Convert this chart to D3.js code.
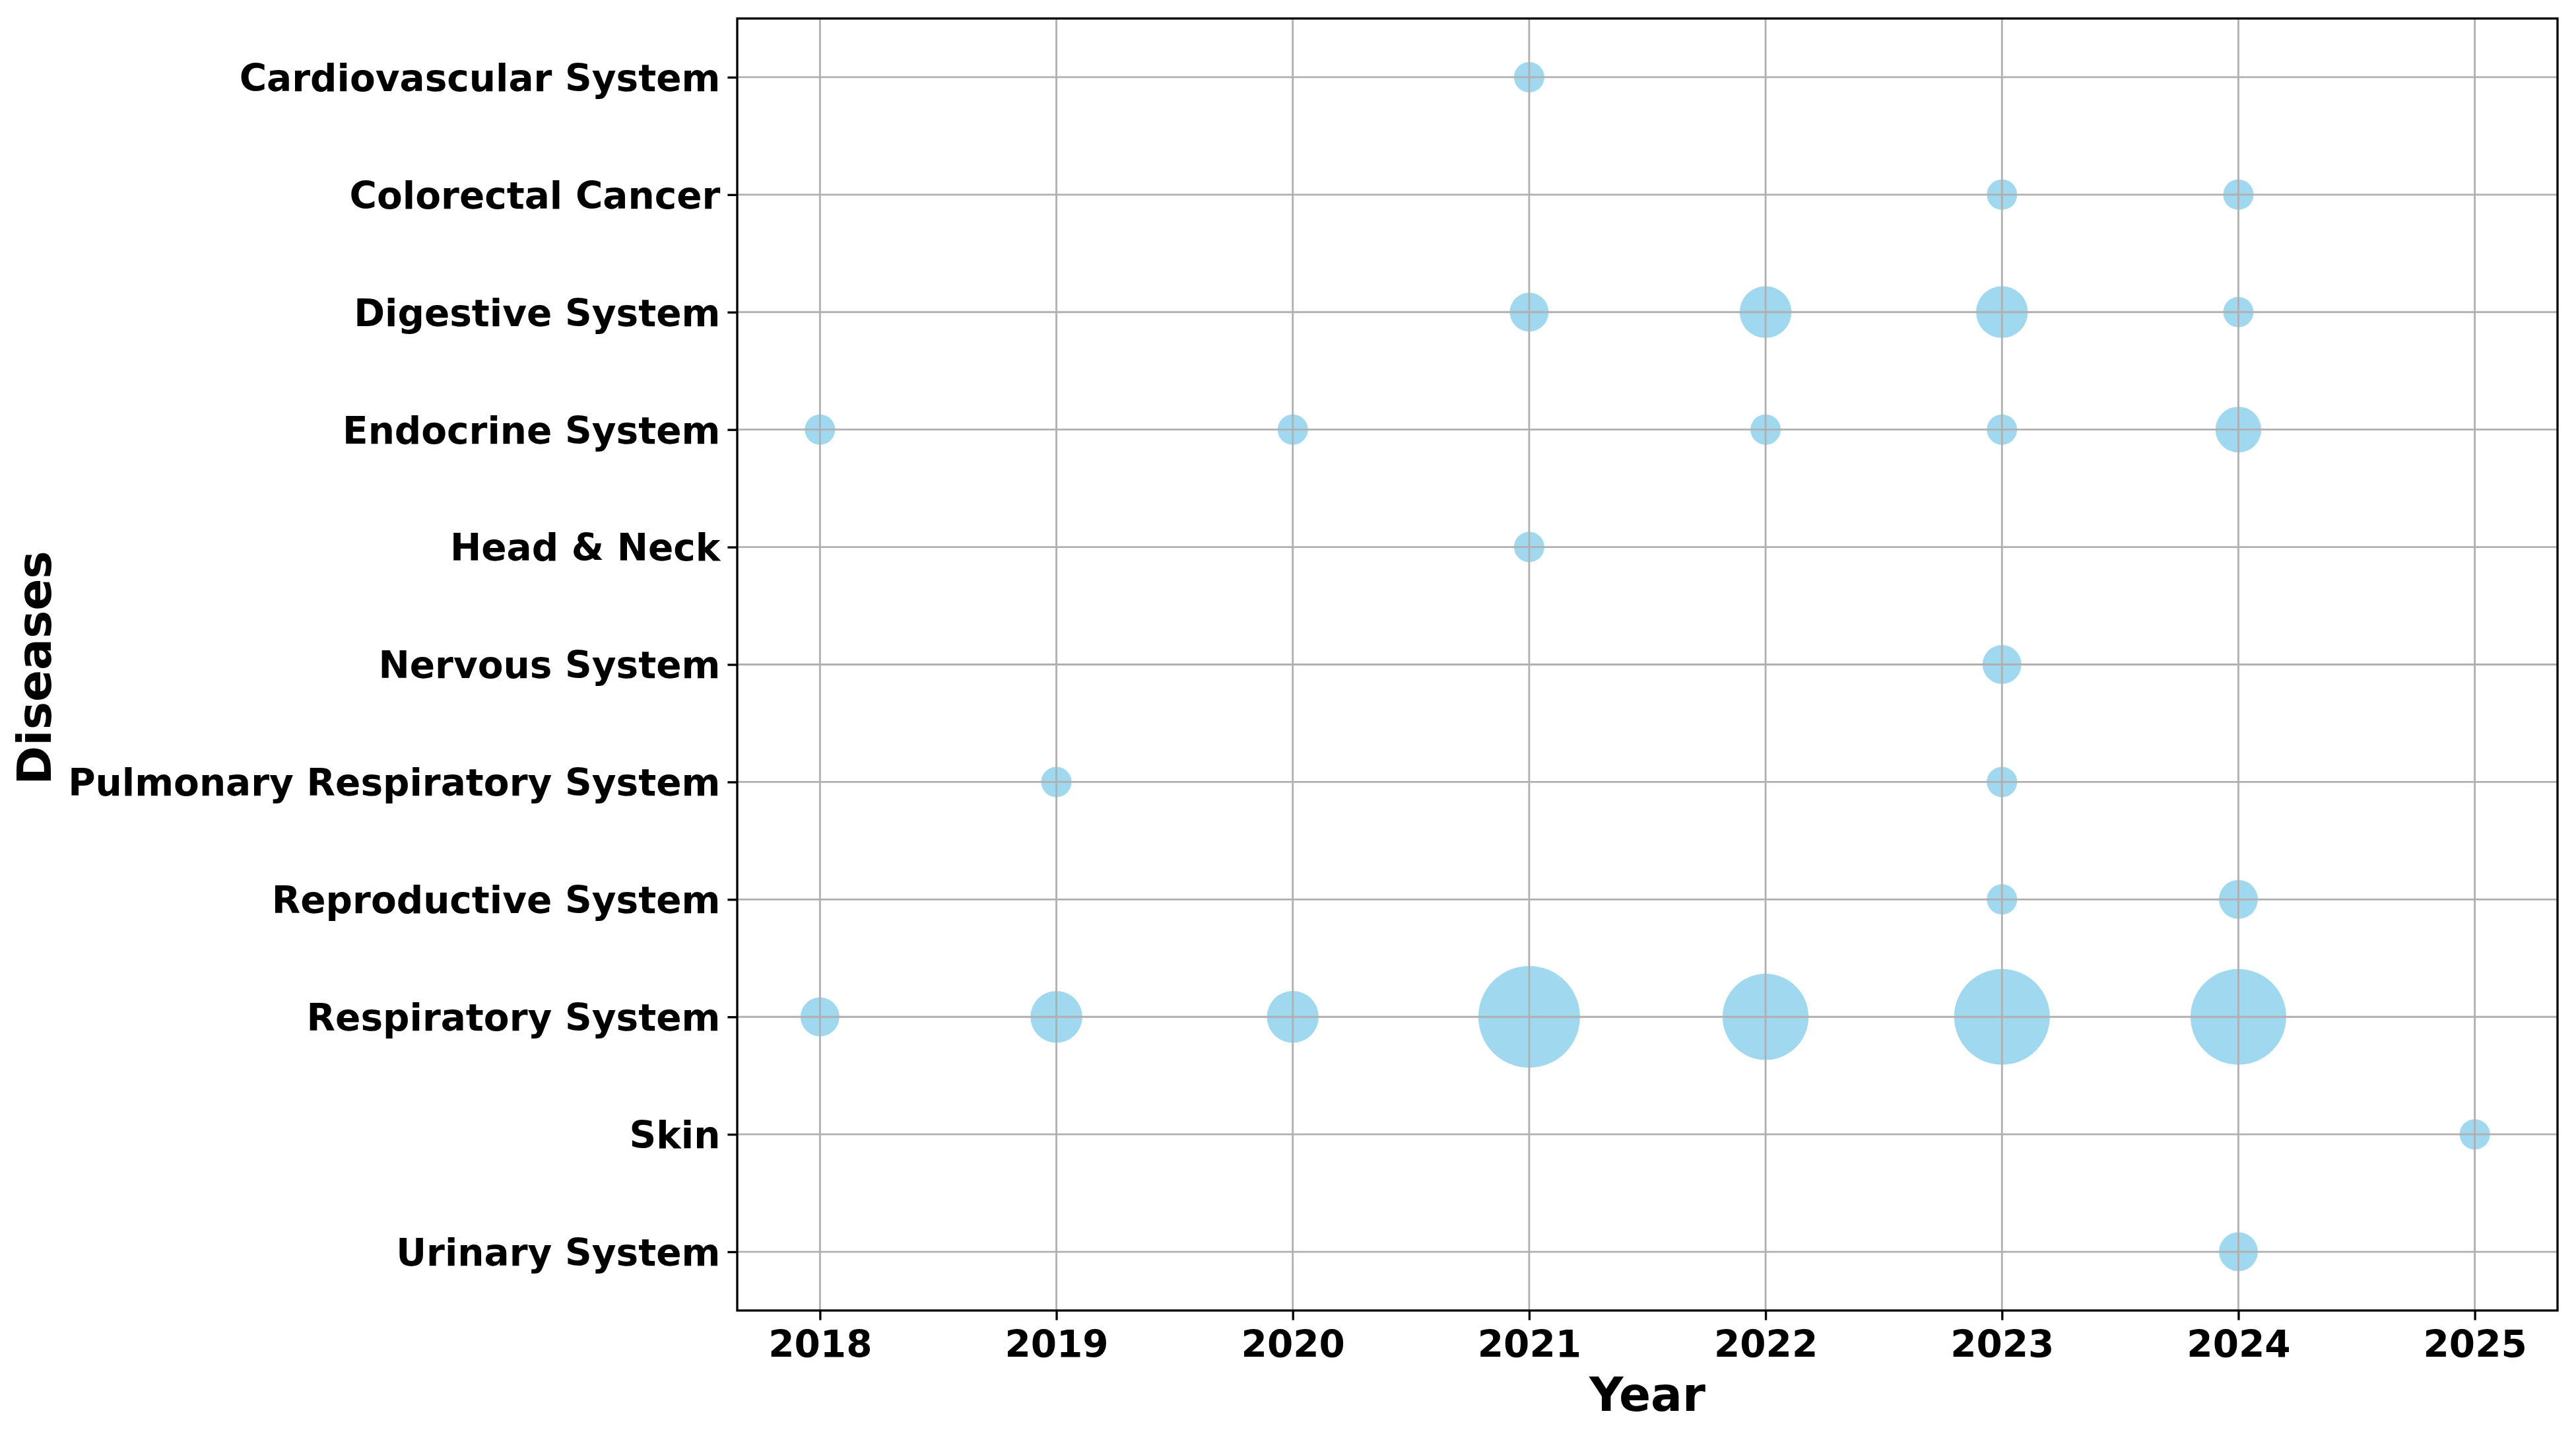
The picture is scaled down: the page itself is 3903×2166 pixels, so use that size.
<!DOCTYPE html>
<html>
<head>
<meta charset="utf-8">
<script src="https://cdn.jsdelivr.net/npm/d3@7"></script>
<style>
  html, body { margin: 0; padding: 0; background: #ffffff; }
  svg { display: block; }
  text { font-family: "DejaVu Sans", sans-serif; font-weight: bold; fill: #000; }
</style>
</head>
<body>
<svg id="chart" width="3903" height="2166"></svg>
<script>
// ---- data ----
const diseases = [
  "Cardiovascular System",
  "Colorectal Cancer",
  "Digestive System",
  "Endocrine System",
  "Head & Neck",
  "Nervous System",
  "Pulmonary Respiratory System",
  "Reproductive System",
  "Respiratory System",
  "Skin",
  "Urinary System"
];
const years = [2018, 2019, 2020, 2021, 2022, 2023, 2024, 2025];
const pointDisease = [
  "Cardiovascular System",
  "Colorectal Cancer", "Colorectal Cancer",
  "Digestive System", "Digestive System", "Digestive System", "Digestive System",
  "Endocrine System", "Endocrine System", "Endocrine System", "Endocrine System", "Endocrine System",
  "Head & Neck",
  "Nervous System",
  "Pulmonary Respiratory System", "Pulmonary Respiratory System",
  "Reproductive System", "Reproductive System",
  "Respiratory System", "Respiratory System", "Respiratory System", "Respiratory System",
  "Respiratory System", "Respiratory System", "Respiratory System",
  "Skin",
  "Urinary System"
];
const pointYear = [
  2021,
  2023, 2024,
  2021, 2022, 2023, 2024,
  2018, 2020, 2022, 2023, 2024,
  2021,
  2023,
  2019, 2023,
  2023, 2024,
  2018, 2019, 2020, 2021, 2022, 2023, 2024,
  2025,
  2024
];
const pointCount = [
  1,
  1, 1,
  2, 4, 4, 1,
  1, 1, 1, 1, 3,
  1,
  2,
  1, 1,
  1, 2,
  2, 4, 4, 17, 12, 15, 15,
  1,
  2
];
const xLabel = "Year";
const yLabel = "Diseases";

// ---- layout ----
const W = 3903, H = 2166;
const plot = { left: 1117, right: 3875, top: 28, bottom: 1985 };
const lw = 3.33;
const tickFont = 56.5;
const titleFont = 71;

const svg = d3.select("#chart");
svg.append("rect").attr("width", W).attr("height", H).attr("fill", "#ffffff");

const x = d3.scaleLinear()
  .domain([years[0] - 0.35, years[years.length - 1] + 0.35])
  .range([plot.left, plot.right]);
const yIndex = d3.scaleLinear()
  .domain([-0.5, diseases.length - 0.5])
  .range([plot.top, plot.bottom]);
const y = d => yIndex(diseases.indexOf(d));
// area (diameter^2) grows linearly with count
const area = d3.scaleLinear().domain([1, 17]).range([2116, 23716]);
const radius = n => Math.sqrt(area(n)) / 2;

const points = pointCount.map((c, i) => ({ d: pointDisease[i], yr: pointYear[i], c }));

// clip
svg.append("clipPath").attr("id", "clip")
  .append("rect")
  .attr("x", plot.left).attr("y", plot.top)
  .attr("width", plot.right - plot.left).attr("height", plot.bottom - plot.top);

// bubbles
svg.append("g").attr("clip-path", "url(#clip)")
  .selectAll("circle").data(points).enter().append("circle")
  .attr("cx", p => x(p.yr))
  .attr("cy", p => y(p.d))
  .attr("r", p => radius(p.c))
  .attr("fill", "#87CEEB")
  .attr("fill-opacity", 0.8);

// grid (drawn above markers, as in reference)
const grid = svg.append("g");
grid.selectAll("line.gx").data(years).enter().append("line")
  .attr("x1", d => x(d)).attr("x2", d => x(d))
  .attr("y1", plot.top).attr("y2", plot.bottom)
  .attr("stroke", "#b0b0b0").attr("stroke-width", 2.8);
grid.selectAll("line.gy").data(diseases).enter().append("line")
  .attr("y1", d => y(d)).attr("y2", d => y(d))
  .attr("x1", plot.left).attr("x2", plot.right)
  .attr("stroke", "#b0b0b0").attr("stroke-width", 2.8);

// axes
const xAxis = d3.axisBottom(x).tickValues(years).tickFormat(d3.format("d"))
  .tickSize(14.6).tickPadding(14.6);
const gx = svg.append("g").attr("transform", `translate(0,${plot.bottom})`).call(xAxis);
gx.select(".domain").remove();
gx.selectAll(".tick line").attr("stroke", "#000").attr("stroke-width", lw);
gx.selectAll(".tick text").attr("font-size", tickFont).attr("font-family", "DejaVu Sans")
  .attr("font-weight", "bold").attr("fill", "#000").attr("dy", "0.74em");

const yAxis = d3.axisLeft(yIndex).tickValues(d3.range(diseases.length))
  .tickFormat(i => diseases[i]).tickSize(14.6).tickPadding(11);
const gy = svg.append("g").attr("transform", `translate(${plot.left},0)`).call(yAxis);
gy.select(".domain").remove();
gy.selectAll(".tick line").attr("stroke", "#000").attr("stroke-width", lw);
gy.selectAll(".tick text").attr("font-size", tickFont).attr("font-family", "DejaVu Sans")
  .attr("font-weight", "bold").attr("fill", "#000").attr("dy", "0.36em");

// frame
svg.append("rect")
  .attr("x", plot.left).attr("y", plot.top)
  .attr("width", plot.right - plot.left).attr("height", plot.bottom - plot.top)
  .attr("fill", "none").attr("stroke", "#000").attr("stroke-width", lw);

// axis titles
svg.append("text")
  .attr("x", (plot.left + plot.right) / 2).attr("y", 2137)
  .attr("text-anchor", "middle").attr("font-size", titleFont)
  .text(xLabel);
svg.append("text")
  .attr("transform", `translate(77,${(plot.top + plot.bottom) / 2 + 5}) rotate(-90)`)
  .attr("text-anchor", "middle").attr("font-size", titleFont)
  .text(yLabel);
</script>
</body>
</html>
